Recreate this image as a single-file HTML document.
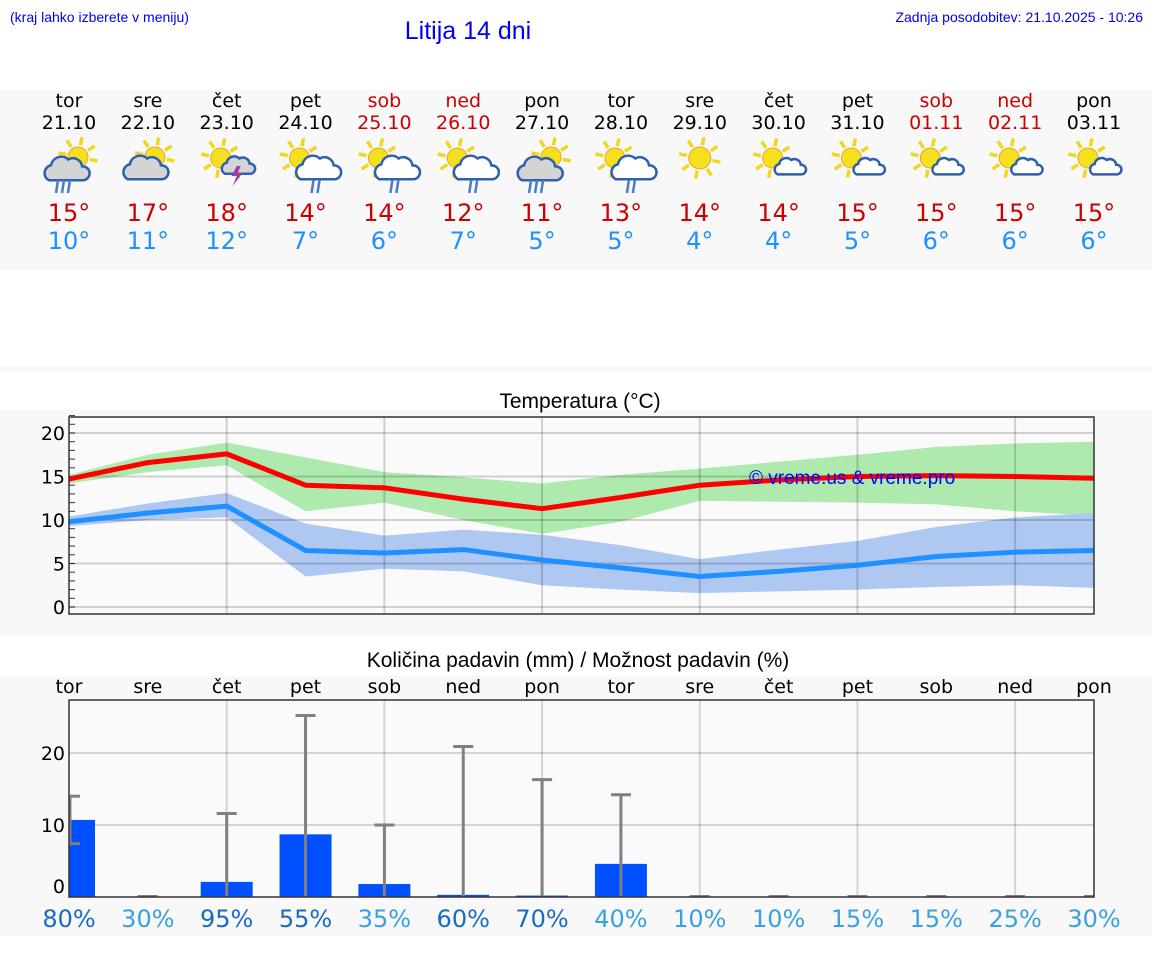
<!DOCTYPE html>
<html><head><meta charset="utf-8"><style>
html,body{margin:0;padding:0;background:#fff;}
svg{display:block;font-family:"DejaVu Sans",sans-serif;}
</style></head><body>
<svg id="s" width="1152" height="975" xmlns="http://www.w3.org/2000/svg">
<rect x="0" y="90" width="1152" height="180" fill="#f8f8f8"/>
<rect x="0" y="366" width="1152" height="270" fill="#f8f8f8"/>
<rect x="0" y="371" width="1152" height="39" fill="#fff"/>
<rect x="0" y="676" width="1152" height="260" fill="#f8f8f8"/>
<text x="10" y="22" font-family="Liberation Sans" font-size="14" fill="#0000ee">(kraj lahko izberete v meniju)</text>
<text x="468" y="39" font-family="Liberation Sans" font-size="25" fill="#0000ee" text-anchor="middle">Litija 14 dni</text>
<text x="1143" y="22" font-family="Liberation Sans" font-size="14" fill="#0000ee" text-anchor="end">Zadnja posodobitev: 21.10.2025 - 10:26</text>
<text x="580" y="408" font-family="Liberation Sans" font-size="21" fill="#000" text-anchor="middle">Temperatura (°C)</text>
<text x="578" y="667" font-family="Liberation Sans" font-size="21" fill="#000" text-anchor="middle">Količina padavin (mm) / Možnost padavin (%)</text>
<g id="topRow"></g>
<g id="temp"></g>
<g id="prec"></g>
</svg>
<script>
const days=["tor","sre","čet","pet","sob","ned","pon","tor","sre","čet","pet","sob","ned","pon"];
const dates=["21.10","22.10","23.10","24.10","25.10","26.10","27.10","28.10","29.10","30.10","31.10","01.11","02.11","03.11"];
const weekend=[0,0,0,0,1,1,0,0,0,0,0,1,1,0];
const icons=["rain-grey","cloud-grey","storm","rain-white","rain-white","rain-white","rain-grey","rain-white","sun","small-cloud","small-cloud","small-cloud","small-cloud","small-cloud"];
const tMax=[14.7,16.6,17.6,14.0,13.7,12.4,11.3,12.6,14.0,14.6,15.0,15.1,15.0,14.8];
const tMaxHi=[15.2,17.5,18.9,17.2,15.5,14.9,14.2,15.2,15.9,16.7,17.5,18.4,18.8,19.0];
const tMaxLo=[14.2,15.5,16.3,11.0,12.0,10.0,8.4,9.8,12.2,12.1,12.0,11.8,11.0,10.5];
const tMin=[9.8,10.8,11.6,6.5,6.2,6.6,5.4,4.5,3.5,4.1,4.8,5.8,6.3,6.5];
const tMinHi=[10.4,11.9,13.1,9.6,8.2,8.9,8.3,7.1,5.5,6.6,7.6,9.2,10.3,10.8];
const tMinLo=[9.3,10.0,10.3,3.5,4.4,4.1,2.5,2.0,1.6,1.8,2.0,2.3,2.5,2.2];
const maxLabels=[15,17,18,14,14,12,11,13,14,14,15,15,15,15];
const minLabels=[10,11,12,7,6,7,5,5,4,4,5,6,6,6];
const precip=[10.7,0,2.1,8.7,1.8,0.3,0.2,4.6,0,0,0,0,0,0];
const precHi=[14.0,0,11.6,25.2,10.0,20.9,16.3,14.2,0,0,0,0,0,0];
const precLo=[7.4,0,0,0,0,0,0,0,0,0,0,0,0,0];
const chance=[80,30,95,55,35,60,70,40,10,10,15,15,25,30];
const tempTicks=[0,5,10,15,20];
const precTicks=[0,10,20];

const NS="http://www.w3.org/2000/svg";
function mk(p,t,a,txt){const e=document.createElementNS(NS,t);for(const k in a)e.setAttribute(k,a[k]);if(txt!==undefined)e.textContent=txt;p.appendChild(e);return e;}
const L=69,R=1094;
const X=i=>L+(R-L)*i/13;
const topG=document.getElementById('topRow');
const red="#cc0000";
function sun(g,cx,cy,r){for(let k=0;k<8;k++){const a=k*Math.PI/4+0.2;mk(g,'line',{x1:cx+Math.cos(a)*(r+2),y1:cy+Math.sin(a)*(r+2),x2:cx+Math.cos(a)*(r+10),y2:cy+Math.sin(a)*(r+10),stroke:'#f0d820','stroke-width':3.5});}
 mk(g,'circle',{cx:cx,cy:cy,r:r,fill:'#f5e01e',stroke:'#f0a030','stroke-width':1});}
function cloud(g,cx,cy,s,fill){
 const c=mk(g,'g',{transform:`translate(${cx},${cy}) scale(${s})`});
 mk(c,'path',{d:'M-15,8 a7,7 0 0 1 2,-13 a9,9 0 0 1 15,-5 a8,8 0 0 1 12,6 a6,6 0 0 1 1,12 z',fill:fill,stroke:'#2e5fb0','stroke-width':2.5/s});}
function rain(g,cx,cy,n){for(let k=0;k<n;k++){mk(g,'line',{x1:cx+k*6+2,y1:cy,x2:cx+k*6,y2:cy+13,stroke:'#4a7cc8','stroke-width':2.5});}}
for(let i=0;i<14;i++){
 const x=X(i);
 const c=weekend[i]?red:'#000';
 let t=mk(topG,'text',{x:x,y:107,'font-size':19,'text-anchor':'middle',fill:c},days[i]);
 
 
 t=mk(topG,'text',{x:x,y:129,'font-size':19,'text-anchor':'middle',fill:c},dates[i]);
 
 
 const g=mk(topG,'g',{});
 
 
 const ic=icons[i];
 if(ic==='rain-grey'){sun(g,x+9,157,10);cloud(g,x-3,171,1.15,'#d4d4d4');rain(g,x-13,180,3);}
 else if(ic==='cloud-grey'){sun(g,x+7,157,10);cloud(g,x-3,170,1.15,'#d4d4d4');}
 else if(ic==='storm'){sun(g,x-6,158,10);cloud(g,x+11,167,0.85,'#d4d4d4');mk(g,'path',{d:`M${x+10},${166} l-5,10 h5 l-4,10 l10,-13 h-5 l3,-7z`,fill:'#a040a0'});}
 else if(ic==='rain-white'){sun(g,x-6,158,10);cloud(g,x+12,170,1.15,'#fff');rain(g,x+6,180,2);}
 else if(ic==='sun'){sun(g,x,158,11);}
 else {sun(g,x-6,158,10);cloud(g,x+11,168,0.8,'#fff');}
 t=mk(topG,'text',{x:x,y:221,'font-size':24,'text-anchor':'middle',fill:red},maxLabels[i]+'°');
 
 
 t=mk(topG,'text',{x:x,y:249,'font-size':24,'text-anchor':'middle',fill:'#1e90ff'},minLabels[i]+'°');
 
 
}
const tg=document.getElementById('temp');
const TT=417,TB=614;
const Y=v=>607-v*8.7;
mk(tg,'rect',{x:L,y:TT,width:R-L,height:TB-TT,fill:'#fafafa'});
function band(hi,lo,col,name){const d='M'+hi.map((v,i)=>X(i)+','+Y(v)).join(' L')+' L'+lo.map((v,i)=>X(i)+','+Y(v)).reverse().join(' L')+'z';
 const p=mk(tg,'path',{d:d,fill:col});
 
 }
band(tMaxHi,tMaxLo,'#aeeaae','max-temp-range');
band(tMinHi,tMinLo,'#aec8f2','min-temp-range');
for(let v=0;v<=22;v++){mk(tg,'line',{x1:L,x2:L+6,y1:Y(v),y2:Y(v),stroke:'#333','stroke-width':1});}
tempTicks.forEach(v=>{mk(tg,'line',{x1:L,x2:R,y1:Y(v),y2:Y(v),stroke:'rgba(0,0,0,0.17)','stroke-width':2});
 const t=mk(tg,'text',{x:L-4,y:Y(v)+7,'font-size':19,'text-anchor':'end',fill:'#000'},v);
 
 });
for(let i=2;i<14;i+=2){mk(tg,'line',{x1:X(i),x2:X(i),y1:TT,y2:TB,stroke:'rgba(0,0,0,0.17)','stroke-width':2});}
let pl=mk(tg,'polyline',{points:tMax.map((v,i)=>X(i)+','+Y(v)).join(' '),fill:'none',stroke:'#ff0000','stroke-width':5,'stroke-linejoin':'round'});


pl=mk(tg,'polyline',{points:tMin.map((v,i)=>X(i)+','+Y(v)).join(' '),fill:'none',stroke:'#1e90ff','stroke-width':5,'stroke-linejoin':'round'});


mk(tg,'rect',{x:L,y:TT,width:R-L,height:TB-TT,fill:'none',stroke:'#333','stroke-width':1.5});
const wm=mk(tg,'text',{x:749,y:484,'font-family':'Liberation Sans','font-size':19,fill:'#0000ff'},'© vreme.us & vreme.pro');


const pg=document.getElementById('prec');
const PT=700,PB=897;
const PY=v=>PB-v*7.2;
mk(pg,'rect',{x:L,y:PT,width:R-L,height:PB-PT,fill:'#fafafa'});
precTicks.forEach(v=>{if(v>0)mk(pg,'line',{x1:L,x2:R,y1:PY(v),y2:PY(v),stroke:'rgba(0,0,0,0.15)','stroke-width':2});
 const t=mk(pg,'text',{x:L-4,y:PY(v)+7-(v===0?11:0),'font-size':19,'text-anchor':'end',fill:'#000'},v);
 
 });
for(let i=2;i<14;i+=2){mk(pg,'line',{x1:X(i),x2:X(i),y1:PT,y2:PB,stroke:'rgba(0,0,0,0.15)','stroke-width':2});}
for(let i=0;i<14;i++){
 const x=X(i);
 let t=mk(pg,'text',{x:x,y:693,'font-size':19,'text-anchor':'middle',fill:'#000'},days[i]);
 
 
 let x0=x-26,x1=x+26;if(x0<L)x0=L;if(x1>R)x1=R;
 const b=mk(pg,'rect',{x:x0,y:PY(precip[i]),width:x1-x0,height:precip[i]*7.2,fill:'#0050ff'});
 
 
 const ex=Math.max(x,L+1);
 const eg=mk(pg,'g',{stroke:'#808080','stroke-width':3});
 
 
 if(precHi[i]>0){mk(eg,'line',{x1:ex,x2:ex,y1:PY(precLo[i]),y2:PY(precHi[i])});
  mk(eg,'line',{x1:Math.max(ex-10,L),x2:ex+10,y1:PY(precHi[i]),y2:PY(precHi[i])});
  if(precLo[i]>0)mk(eg,'line',{x1:Math.max(ex-10,L),x2:ex+10,y1:PY(precLo[i]),y2:PY(precLo[i])});}
 else mk(eg,'line',{x1:x-10,x2:Math.min(x+10,R),y1:PB-1,y2:PB-1,'stroke-width':2});
 t=mk(pg,'text',{x:x,y:927,'font-size':24,'text-anchor':'middle',fill:chance[i]>=50?'#1a6cc0':'#3aa0e0'},chance[i]+'%');
 
 
}
mk(pg,'rect',{x:L,y:PT,width:R-L,height:PB-PT,fill:'none',stroke:'#333','stroke-width':1.5});
</script>
</body></html>
